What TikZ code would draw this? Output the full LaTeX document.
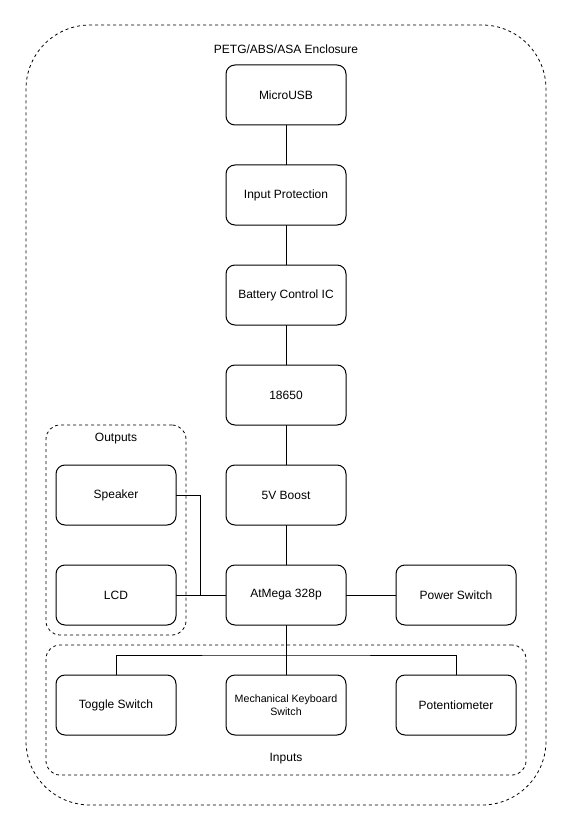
\documentclass[tikz,border=0pt]{standalone}
\usepackage{fontspec}
\setmainfont{Liberation Sans}
\usetikzlibrary{positioning}

\begin{document}
\begin{tikzpicture}[x=0.75pt, y=-0.75pt, line width=0.75pt,
    block/.style={draw, rounded corners=6.75pt, outer sep=0pt, minimum width=90pt, minimum height=45pt, align=center, font=\fontsize{9}{11}\selectfont},
    group/.style={draw, dash pattern=on 2.25pt off 2.25pt, line width=0.6pt, rounded corners=10.5pt},
    grouplabel/.style={font=\fontsize{9}{11}\selectfont}]
    \useasboundingbox (0,0) rectangle (571,831);
    \node (enclosure) [group, rounded corners=48pt, minimum width=390pt, minimum height=585pt] at (286,415) {};
    \node (enclabel) [grouplabel] at (286,49) {PETG/ABS/ASA Enclosure};
    \node (outputs) [group, minimum width=105pt, minimum height=157.5pt] at (116,530) {};
    \node (outlabel) [grouplabel] at (116,439) {Outputs};
    \node (inputs) [group, minimum width=360pt, minimum height=97.5pt] at (286,710) {};
    \node (inlabel) [grouplabel] at (286,759) {Inputs};
    \node (microusb) [block] at (286,95) {MicroUSB};
    \node (inprot) [block, below=30pt of microusb] {Input Protection};
    \node (battctrl) [block, below=30pt of inprot] {Battery Control IC};
    \node (cell) [block, below=30pt of battctrl] {18650};
    \node (boost) [block, below=30pt of cell] {5V Boost};
    \node (atmega) [block, below=30pt of boost] {AtMega 328p};
    \node (speaker) [block] at (116,495) {Speaker};
    \node (lcd) [block] at (116,595) {LCD};
    \node (powersw) [block] at (456,595) {Power Switch};
    \node (toggle) [block] at (116,705) {Toggle Switch};
    \node (mechkey) [block, font=\fontsize{8}{10}\selectfont] at (286,705) {Mechanical Keyboard\\Switch};
    \node (potmeter) [block] at (456,705) {Potentiometer};
    \coordinate (bus) at (286,655);
    \draw (microusb) -- (inprot);
    \draw (inprot) -- (battctrl);
    \draw (battctrl) -- (cell);
    \draw (cell) -- (boost);
    \draw (boost) -- (atmega);
    \draw (speaker.east) -- ++(24,0) |- (atmega.west);
    \draw (lcd) -- (atmega);
    \draw (atmega) -- (powersw);
    \draw (atmega) -- (mechkey);
    \draw (toggle.north) |- (bus) -| (potmeter.north);
\end{tikzpicture}
\end{document}
